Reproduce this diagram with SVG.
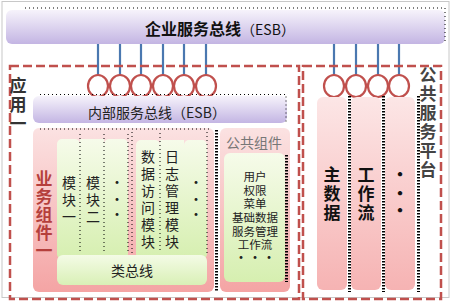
<svg xmlns="http://www.w3.org/2000/svg" width="454" height="303" viewBox="0 0 454 303">
<defs>
<linearGradient id="gEsb" x1="0" y1="0" x2="0" y2="1"><stop offset="0" stop-color="#f6f3fb"/><stop offset="1" stop-color="#c3b5e3"/></linearGradient>
<linearGradient id="gPink" x1="0" y1="0" x2="0" y2="1"><stop offset="0" stop-color="#fbe2e2"/><stop offset="1" stop-color="#f4a4a4"/></linearGradient>
<linearGradient id="gPinkCol" x1="0" y1="0" x2="0" y2="1"><stop offset="0" stop-color="#fce6e6"/><stop offset="1" stop-color="#f6b3b3"/></linearGradient>
<linearGradient id="gGreen" x1="0" y1="0" x2="0" y2="1"><stop offset="0" stop-color="#f6fbea"/><stop offset="1" stop-color="#d6efb0"/></linearGradient>
<linearGradient id="gGreenBus" x1="0" y1="0" x2="0" y2="1"><stop offset="0" stop-color="#f4fbe6"/><stop offset="1" stop-color="#d9f0b6"/></linearGradient>
</defs>
<style>
text{font-family:"Noto Sans CJK SC","Liberation Sans",sans-serif;}
.frame{fill:none;stroke:#c0504d;stroke-width:2.5;stroke-dasharray:9,4;}
.dot{fill:none;stroke:#000;stroke-width:1;stroke-dasharray:1,3;}
.thick{fill:none;stroke:#000;stroke-width:3;stroke-dasharray:1.5,1.5;}
.conn{stroke:#4a78b0;stroke-width:2.2;}
.port{fill:#fff;stroke:#c0504d;stroke-width:2.2;}
.mod{font-size:14px;fill:#222;text-anchor:middle;}
.vbold{font-size:17px;font-weight:bold;text-anchor:middle;}
</style>
<rect x="2" y="1.5" width="447" height="296" fill="#fff" stroke="#c8c8c8" stroke-width="1"/>

<g id="esb">
<rect x="6" y="10" width="439" height="34" rx="6" fill="url(#gEsb)"/>
<path class="dot" d="M25 8 H445 V44"/>
<text x="220" y="35" font-size="16" font-weight="bold" text-anchor="middle" fill="#111">企业服务总线<tspan font-weight="normal" font-size="14">（ESB）</tspan></text>
</g>

<g id="connectors">
<line class="conn" x1="98" y1="44" x2="98" y2="76"/>
<line class="conn" x1="120" y1="44" x2="120" y2="76"/>
<line class="conn" x1="141" y1="44" x2="141" y2="76"/>
<line class="conn" x1="163" y1="44" x2="163" y2="76"/>
<line class="conn" x1="184" y1="44" x2="184" y2="76"/>
<line class="conn" x1="206" y1="44" x2="206" y2="76"/>
<line class="conn" x1="334" y1="44" x2="334" y2="76"/>
<line class="conn" x1="356" y1="44" x2="356" y2="76"/>
<line class="conn" x1="378" y1="44" x2="378" y2="76"/>
<line class="conn" x1="399" y1="44" x2="399" y2="76"/>
</g>

<g id="app1">
<rect class="frame" x="10" y="66" width="289" height="233"/>
<text class="vbold" fill="#333"><tspan x="18" y="92">应</tspan><tspan x="18" y="111">用</tspan><tspan x="18" y="130">一</tspan></text>
</g>

<g id="ports-left">
<ellipse class="port" cx="98" cy="86" rx="10" ry="11"/>
<ellipse class="port" cx="120" cy="86" rx="10" ry="11"/>
<ellipse class="port" cx="141" cy="86" rx="10" ry="11"/>
<ellipse class="port" cx="163" cy="86" rx="10" ry="11"/>
<ellipse class="port" cx="184" cy="86" rx="10" ry="11"/>
<ellipse class="port" cx="206" cy="86" rx="10" ry="11"/>
</g>

<g id="inner-esb">
<rect x="33" y="96" width="254" height="27" rx="6" fill="url(#gEsb)"/>
<path class="dot" d="M40 94.5 H286 V123"/>
<text x="157" y="118" font-size="14" text-anchor="middle" fill="#222">内部服务总线（ESB）</text>
</g>

<g id="biz1">
<rect x="33" y="128" width="181" height="164" rx="6" fill="url(#gPink)"/>
<path class="dot" d="M40 129 H212"/>
<text class="vbold" fill="#b53f3c" font-size="18"><tspan x="44" y="185">业</tspan><tspan x="44" y="203">务</tspan><tspan x="44" y="221">组</tspan><tspan x="44" y="239">件</tspan><tspan x="44" y="257">一</tspan></text>
</g>

<g id="mod1">
<rect x="57" y="139" width="23" height="120" rx="5" fill="url(#gGreen)"/>
<text class="mod"><tspan x="69" y="188">模</tspan><tspan x="69" y="205">块</tspan><tspan x="69" y="222">一</tspan></text>
</g>
<g id="mod2">
<rect x="80" y="139" width="24" height="120" fill="url(#gGreen)"/>
<text class="mod"><tspan x="93" y="188">模</tspan><tspan x="93" y="205">块</tspan><tspan x="93" y="222">二</tspan></text>
</g>
<g id="mod3">
<rect x="104" y="139" width="24" height="120" rx="5" fill="url(#gGreen)"/>
<text class="mod"><tspan x="117" y="187">·</tspan><tspan x="117" y="204">·</tspan><tspan x="117" y="219">·</tspan></text>
</g>
<g id="data-access">
<rect x="136" y="140" width="24" height="119" rx="5" fill="url(#gGreen)"/>
<text class="mod"><tspan x="148" y="162">数</tspan><tspan x="148" y="179">据</tspan><tspan x="148" y="196">访</tspan><tspan x="148" y="213">问</tspan><tspan x="148" y="230">模</tspan><tspan x="148" y="247">块</tspan></text>
</g>
<g id="log">
<rect x="160" y="140" width="24" height="119" fill="url(#gGreen)"/>
<text class="mod"><tspan x="172" y="162">日</tspan><tspan x="172" y="179">志</tspan><tspan x="172" y="196">管</tspan><tspan x="172" y="213">理</tspan><tspan x="172" y="230">模</tspan><tspan x="172" y="247">块</tspan></text>
</g>
<g id="mod6">
<rect x="184" y="140" width="23" height="119" rx="5" fill="url(#gGreen)"/>
<text class="mod"><tspan x="196" y="187">·</tspan><tspan x="196" y="204">·</tspan><tspan x="196" y="219">·</tspan></text>
</g>
<g id="mod-lines">
<path class="dot" d="M80 134 V253 M104 134 V253 M128 134 V253 M132 132 V253 M160 133 V253 M207 132 V253"/>
</g>

<g id="class-bus">
<rect x="57" y="255" width="150" height="30" rx="6" fill="url(#gGreenBus)"/>
<text x="132" y="276" font-size="14" text-anchor="middle" fill="#222">类总线</text>
</g>

<g id="common">
<path class="thick" d="M216.5 130 V292"/>
<rect x="220" y="128" width="70" height="164" rx="6" fill="url(#gPink)"/>
<text x="254" y="148" font-size="14" text-anchor="middle" fill="#777">公共组件</text>
<rect x="224" y="153" width="61" height="129" rx="6" fill="url(#gGreen)"/>
<path class="thick" d="M286.5 155 V282"/>
<text font-size="11.5" text-anchor="middle" fill="#222"><tspan x="255" y="181">用户</tspan><tspan x="255" y="195">权限</tspan><tspan x="255" y="208">菜单</tspan><tspan x="255" y="222">基础数据</tspan><tspan x="255" y="236">服务管理</tspan><tspan x="255" y="249">工作流</tspan><tspan x="255" y="262" font-weight="bold">· · ·</tspan></text>
</g>

<g id="platform">
<rect class="frame" x="303" y="66" width="138" height="233"/>
<text class="vbold" fill="#444" font-size="16"><tspan x="428" y="81">公</tspan><tspan x="428" y="100">共</tspan><tspan x="428" y="119">服</tspan><tspan x="428" y="138">务</tspan><tspan x="428" y="157">平</tspan><tspan x="428" y="176">台</tspan></text>
</g>

<g id="ports-right">
<ellipse class="port" cx="334" cy="86" rx="10" ry="11"/>
<ellipse class="port" cx="356" cy="86" rx="10" ry="11"/>
<ellipse class="port" cx="378" cy="86" rx="10" ry="11"/>
<ellipse class="port" cx="399" cy="86" rx="10" ry="11"/>
</g>

<g id="master-data">
<rect x="317" y="97" width="30" height="193" rx="6" fill="url(#gPinkCol)"/>
<path class="thick" d="M349.5 96 V292"/>
<text class="vbold" fill="#111" font-size="18"><tspan x="332" y="181">主</tspan><tspan x="332" y="200">数</tspan><tspan x="332" y="219">据</tspan></text>
</g>
<g id="workflow">
<rect x="351" y="97" width="30" height="193" rx="6" fill="url(#gPinkCol)"/>
<path class="thick" d="M383.5 96 V292"/>
<text class="vbold" fill="#111" font-size="18"><tspan x="366" y="181">工</tspan><tspan x="366" y="200">作</tspan><tspan x="366" y="219">流</tspan></text>
</g>
<g id="more">
<rect x="385" y="97" width="30" height="193" rx="6" fill="url(#gPinkCol)"/>
<path class="thick" d="M418.5 96 V292"/>
<text class="vbold" fill="#111" font-size="18"><tspan x="400" y="181">·</tspan><tspan x="400" y="200">·</tspan><tspan x="400" y="217">·</tspan></text>
</g>
</svg>
